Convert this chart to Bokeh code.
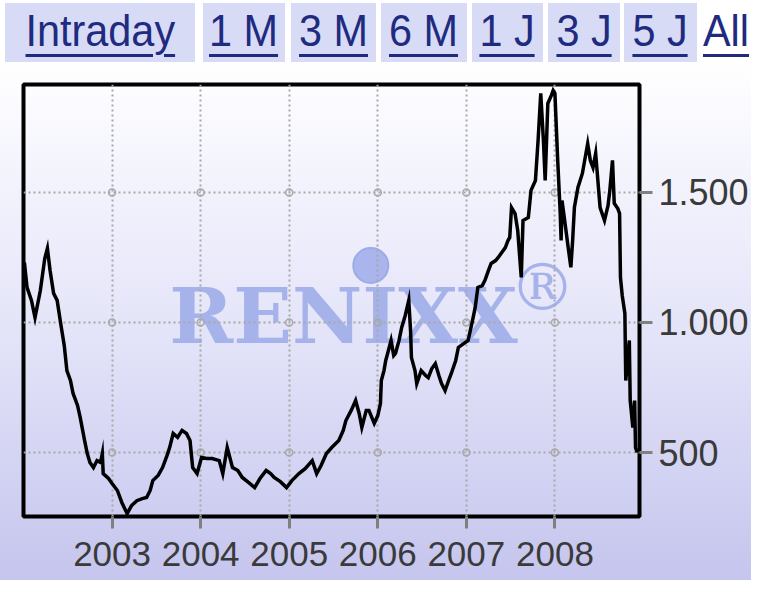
from bokeh.plotting import figure
from bokeh.models import Label, Div, Range1d
from bokeh.layouts import column
from bokeh.embed import file_html
from bokeh.resources import INLINE

# ---------------- data ----------------
TAB_LABELS = ["Intraday", "1 M", "3 M", "6 M", "1 J", "3 J", "5 J", "All"]
YEAR_TICKS = [2003, 2004, 2005, 2006, 2007, 2008]
YEAR_LABELS = ["2003", "2004", "2005", "2006", "2007", "2008"]
VALUE_TICKS = [500, 1000, 1500]
VALUE_LABELS = ["500", "1.000", "1.500"]

DATES = [
    2002.01, 2002.04, 2002.09, 2002.13, 2002.19, 2002.24, 2002.27, 2002.30, 2002.34, 2002.38,
    2002.42, 2002.46, 2002.49, 2002.53, 2002.56, 2002.61, 2002.64, 2002.69, 2002.72, 2002.75,
    2002.79, 2002.83, 2002.87, 2002.89, 2002.90, 2002.96, 2003.00, 2003.06, 2003.11, 2003.17,
    2003.22, 2003.28, 2003.34, 2003.39, 2003.43, 2003.46, 2003.52, 2003.57, 2003.62, 2003.65,
    2003.69, 2003.74, 2003.79, 2003.84, 2003.88, 2003.91, 2003.96, 2004.01, 2004.07, 2004.13,
    2004.21, 2004.25, 2004.30, 2004.36, 2004.42, 2004.47, 2004.54, 2004.61, 2004.67, 2004.74,
    2004.79, 2004.83, 2004.90, 2004.97, 2005.03, 2005.11, 2005.18, 2005.26, 2005.31, 2005.36,
    2005.42, 2005.48, 2005.56, 2005.61, 2005.64, 2005.70, 2005.75, 2005.79, 2005.82, 2005.87,
    2005.90, 2005.96, 2006.00, 2006.03, 2006.04, 2006.07, 2006.09, 2006.12, 2006.15, 2006.18,
    2006.20, 2006.24, 2006.27, 2006.31, 2006.35, 2006.37, 2006.38, 2006.42, 2006.44, 2006.49,
    2006.54, 2006.57, 2006.61, 2006.65, 2006.69, 2006.72, 2006.76, 2006.80, 2006.83, 2006.88,
    2006.91, 2006.97, 2007.02, 2007.07, 2007.10, 2007.13, 2007.18, 2007.21, 2007.25, 2007.28,
    2007.33, 2007.36, 2007.40, 2007.44, 2007.47, 2007.49, 2007.51, 2007.55, 2007.58, 2007.62,
    2007.64, 2007.70, 2007.73, 2007.78, 2007.81, 2007.84, 2007.87, 2007.89, 2007.92, 2007.96,
    2007.98, 2008.00, 2008.03, 2008.06, 2008.07, 2008.08, 2008.11, 2008.15, 2008.18, 2008.20,
    2008.22, 2008.26, 2008.31, 2008.37, 2008.40, 2008.43, 2008.46, 2008.51, 2008.54, 2008.56,
    2008.60, 2008.62, 2008.65, 2008.67, 2008.71, 2008.73, 2008.74, 2008.76, 2008.79, 2008.80,
    2008.82, 2008.84, 2008.85, 2008.88, 2008.90, 2008.91, 2008.93,
]
VALUES = [
    1231, 1135, 1085, 1019, 1123, 1246, 1285, 1200, 1112, 1085,
    996, 912, 815, 777, 727, 681, 635, 546, 496, 462,
    442, 469, 462, 496, 419, 400, 381, 354, 308, 265,
    296, 315, 323, 327, 354, 392, 412, 442, 488, 519,
    573, 558, 585, 573, 546, 442, 419, 481, 477, 477,
    469, 419, 519, 442, 431, 404, 385, 365, 400, 431,
    419, 404, 388, 365, 392, 419, 438, 469, 419, 450,
    496, 519, 546, 585, 623, 662, 700, 650, 596, 662,
    662, 612, 642, 688, 777, 815, 854, 892, 931, 873,
    881, 931, 981, 1027, 1085, 969, 865, 815, 765, 815,
    796, 788, 823, 842, 796, 765, 738, 777, 804, 854,
    904, 919, 931, 1008, 1058, 1135, 1142, 1162, 1200, 1227,
    1238, 1250, 1269, 1288, 1315, 1327, 1442, 1419, 1354, 1173,
    1392, 1404, 1508, 1546, 1700, 1881, 1700, 1546, 1842, 1873,
    1892, 1881, 1635, 1419, 1315, 1469, 1392, 1288, 1212, 1315,
    1442, 1519, 1573, 1688, 1623, 1596, 1650, 1442, 1412, 1392,
    1450, 1508, 1623, 1458, 1438, 1419, 1173, 1104, 1035, 777,
    854, 931, 700, 596, 700, 519, 500,
]

# ---------------- layout / style ----------------
X_START, X_END = 2002.0, 2008.955
Y_START, Y_END = 254, 1915
FRAME_W, FRAME_H = 619, 432
TAB_BOXES = [(5, 190), (203, 82), (291, 85), (381, 86), (472, 71), (548, 72), (624, 73), (703, None)]
TAB_BG = "#d8dbf6"
TAB_TEXT = "#202b80"
WM_COLOR = "#a6b3ea"

# tab bar
parts = []
for label, (left, w) in zip(TAB_LABELS, TAB_BOXES):
    if w is None:
        box = (f"position:absolute;left:{left}px;top:3px;height:59px;line-height:55px;"
               f"white-space:nowrap;")
        origin = "left center"
    else:
        box = (f"position:absolute;left:{left}px;top:3px;width:{w}px;height:59px;"
               f"line-height:55px;background:{TAB_BG};text-align:center;white-space:nowrap;")
        origin = "center center"
    parts.append(
        f'<div style="{box}"><span style="display:inline-block;transform:scaleX(0.92);'
        f'transform-origin:{origin};color:{TAB_TEXT};text-decoration:underline;'
        f'text-decoration-thickness:3px;text-underline-offset:8px;">{label}</span></div>'
    )
tabs_html = (
    '<div style="position:relative;width:751px;height:62px;overflow:hidden;'
    "font-family:'Liberation Sans',Arial,sans-serif;font-size:45px;\">"
    + "".join(parts) + "</div>"
)
tabs = Div(text=tabs_html, width=751, height=62, margin=0)

p = figure(
    width=751, height=518,
    x_range=Range1d(X_START, X_END), y_range=Range1d(Y_START, Y_END),
    y_axis_location="right",
    output_backend="svg", toolbar_location=None,
    min_border_left=23, min_border_right=109, min_border_top=22, min_border_bottom=64,
    background_fill_alpha=0, border_fill_alpha=0,
)
p.styles = {"background": "linear-gradient(to bottom, #ffffff 0%, #f7f7fe 15%, #e4e4f9 52%, #c5c5ee 100%)"}
p.margin = 0
p.outline_line_color = "black"
p.outline_line_width = 4

# axes
for ax, ticks, labels in ((p.xaxis, YEAR_TICKS, YEAR_LABELS), (p.yaxis, VALUE_TICKS, VALUE_LABELS)):
    ax.ticker = ticks
    ax.major_label_overrides = {t: l for t, l in zip(ticks, labels)}
    ax.axis_line_color = None
    ax.major_tick_in = 0
    ax.major_tick_line_color = "#808080"
    ax.major_tick_line_width = 3
    ax.minor_tick_line_color = None
    ax.major_label_text_font = "Liberation Sans"
    ax.major_label_text_color = "#3a3a3a"
p.xaxis.major_tick_out = 12
p.xaxis.major_label_standoff = 13
p.xaxis.major_label_text_font_size = "35px"
p.yaxis.major_tick_out = 13
p.yaxis.major_label_standoff = 6
p.yaxis.major_label_text_font_size = "36px"

# grid
for g in (p.xgrid, p.ygrid):
    g.grid_line_color = "#a8a8a8"
    g.grid_line_dash = "2 3"
    g.grid_line_width = 2

# grid intersection rings
gx = [x for x in YEAR_TICKS for _ in VALUE_TICKS]
gy = [y for _ in YEAR_TICKS for y in VALUE_TICKS]
p.scatter(gx, gy, marker="circle", size=7, fill_alpha=0, line_color="#a8a8a8",
          line_width=1.5, level="underlay")

# watermark
wm = Label(x=320, y=201, x_units="screen", y_units="screen", text="RENIXX",
           text_font="DejaVu Serif", text_font_style="bold", text_font_size="77px",
           text_color=WM_COLOR, text_align="center", text_baseline="middle", level="image")
reg = Label(x=519, y=229, x_units="screen", y_units="screen", text="®",
            text_font="DejaVu Serif", text_font_size="66px",
            text_color=WM_COLOR, text_align="center", text_baseline="middle", level="image")
p.add_layout(wm)
p.add_layout(reg)
globe_x = X_START + (349 / FRAME_W) * (X_END - X_START)
globe_y = Y_START + (251 / FRAME_H) * (Y_END - Y_START)
p.scatter([globe_x], [globe_y], marker="circle", size=35, fill_color="#a9b5ec",
          line_color="#9eace6", line_width=2, level="image")

# index line
p.line(DATES, VALUES, line_color="black", line_width=3.5, line_join="miter")

layout = column(tabs, p, spacing=0)
open("out.html", "w").write(file_html(layout, INLINE))
